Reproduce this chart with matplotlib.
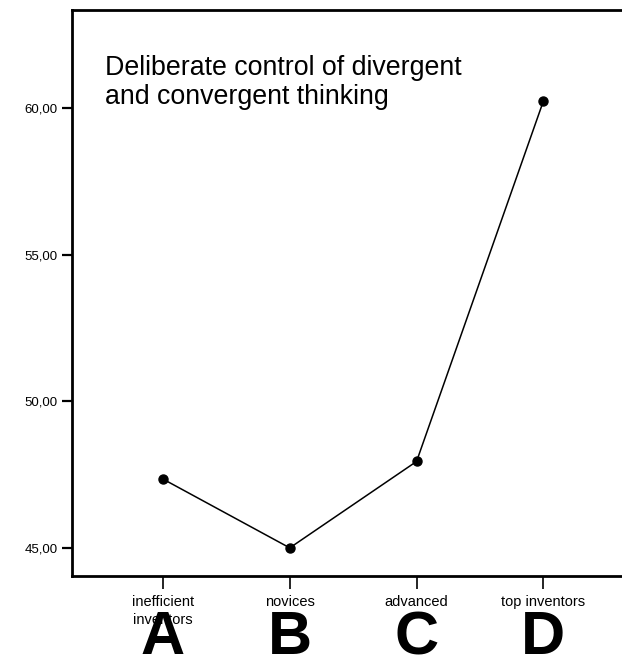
import numpy as np
import matplotlib.pyplot as plt

plt.rcParams['font.family'] = ['Liberation Sans', 'DejaVu Sans']

## Données
groupes = ['inefficient\ninventors', 'novices', 'advanced', 'top inventors']
lettres = ['A', 'B', 'C', 'D']
scores = [47.35, 45.0, 47.95, 60.25]
yticks = [45, 50, 55, 60]

x = np.arange(len(groupes))

fig = plt.figure(figsize=(6.22, 6.55), dpi=100)
ax = fig.add_axes([72/622, 1 - 576/655, 1 - 72/622, 566/655])

ax.plot(x, scores, color='black', lw=1.1, marker='o', ms=6.5)

ax.set_xlim(-0.717, 3.62)
ax.set_ylim(44.04, 63.36)

ax.spines['right'].set_visible(False)
ax.spines['left'].set_linewidth(2)
ax.spines['bottom'].set_linewidth(2)
ax.spines['top'].set_linewidth(2)

ax.set_yticks(yticks)
ax.set_yticklabels([('%.2f' % v).replace('.', ',') for v in yticks])
ax.tick_params(axis='y', direction='out', length=7.5, width=1.6, labelsize=9.5, pad=3)

ax.set_xticks(x)
ax.set_xticklabels(groupes)
ax.tick_params(axis='x', direction='out', length=9, width=1.2, labelsize=10.5, pad=5)
for lab in ax.get_xticklabels():
    lab.set_linespacing(1.3)

ax.text(0.06, 0.92, 'Deliberate control of divergent\nand convergent thinking',
        transform=ax.transAxes, fontsize=19.3, va='top', ha='left', linespacing=1.12)

for xi, l in zip(x, lettres):
    ax.annotate(l, xy=(xi, 0), xycoords=('data', 'axes fraction'),
                xytext=(0, -24.5), textcoords='offset points',
                ha='center', va='top', fontsize=44, fontweight='bold',
                annotation_clip=False)

fig.savefig('out.png', dpi=100)
